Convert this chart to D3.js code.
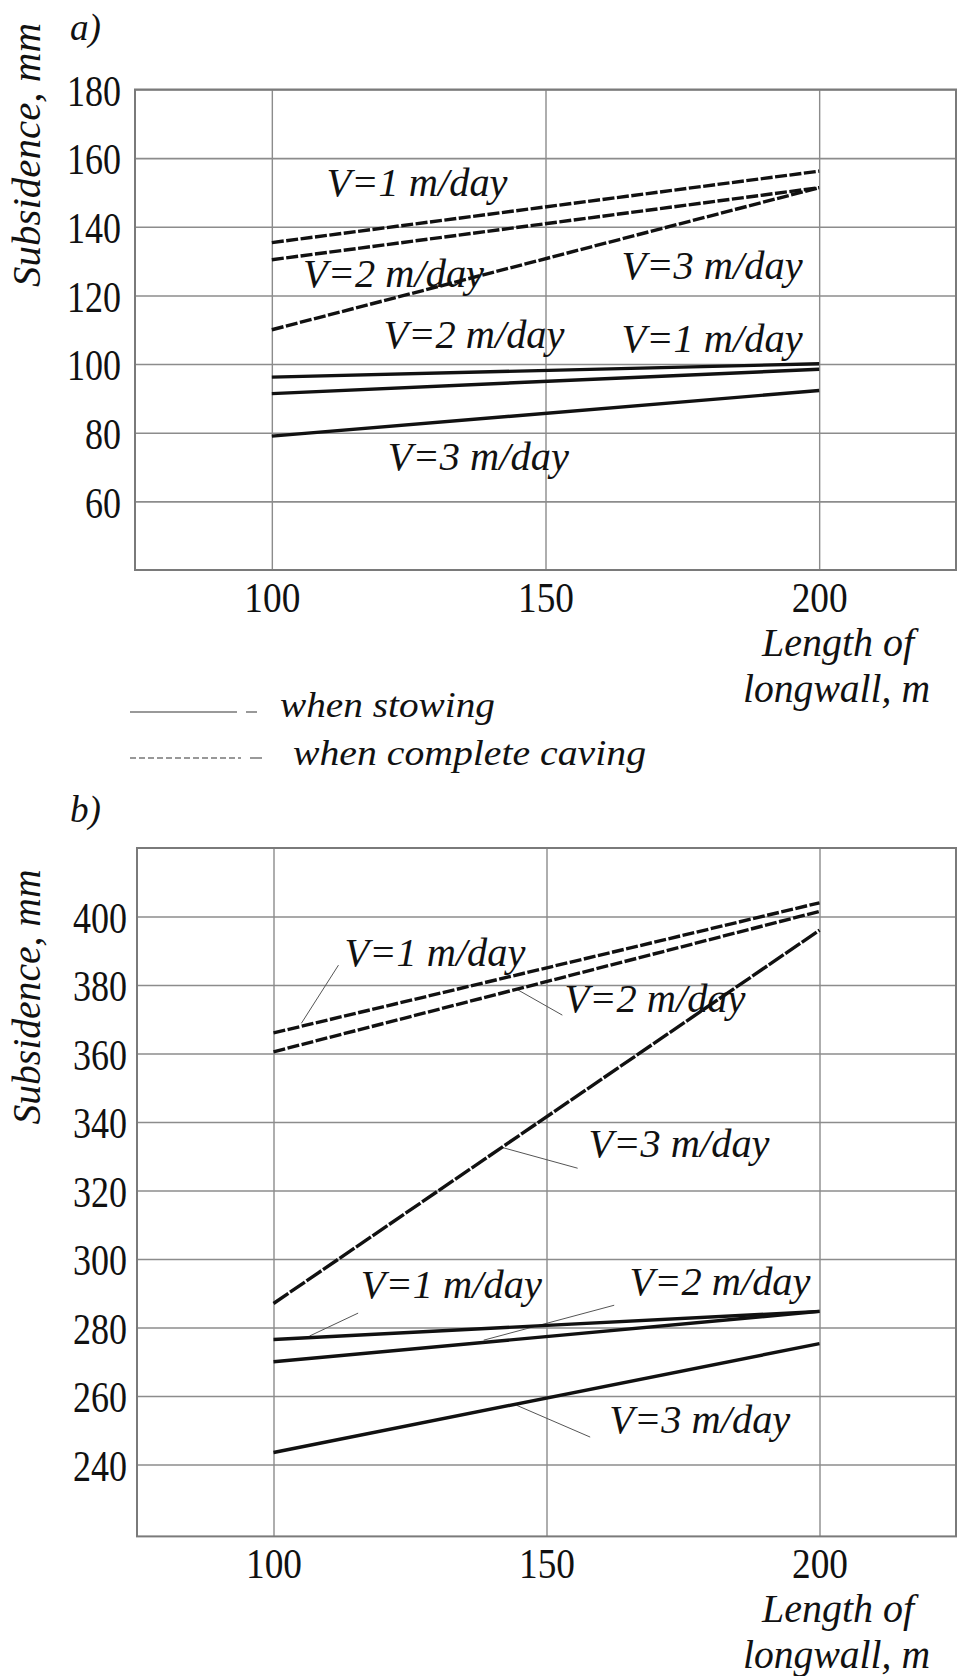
<!DOCTYPE html>
<html>
<head>
<meta charset="utf-8">
<script src="https://cdn.jsdelivr.net/npm/d3@7/dist/d3.min.js"></script>
<style>
  body { margin: 0; background: #fff; }
  svg { display: block; }
  text { font-family: "Liberation Serif", "Times New Roman", Tinos, serif; fill: #111; }
</style>
</head>
<body>
<svg id="chart" width="958" height="1676"></svg>
<script>
// ---------- data ----------
const lengths = [100, 200];                 // length of longwall, m
const xTicks = [100, 150, 200];
const yTicksA = [60, 80, 100, 120, 140, 160, 180];
const yTicksB = [240, 260, 280, 300, 320, 340, 360, 380, 400];
const speeds = ["V=1 m/day", "V=2 m/day", "V=3 m/day"];

// panel a) subsidence, mm
const aCaving1 = [135.4, 156.2];
const aCaving2 = [130.4, 151.4];
const aCaving3 = [110.0, 151.4];
const aStowing1 = [96.2, 100.1];
const aStowing2 = [91.4, 98.5];
const aStowing3 = [79.0, 92.3];

// panel b) subsidence, mm
const bCaving1 = [366.0, 404.0];
const bCaving2 = [360.5, 401.5];
const bCaving3 = [287.0, 396.0];
const bStowing1 = [276.5, 284.7];
const bStowing2 = [270.0, 284.7];
const bStowing3 = [243.5, 275.3];

// label anchors in data units [length, subsidence]
const aLabels = [
  {t: speeds[0], at: [110.0, 149.0]},
  {t: speeds[1], at: [105.7, 122.5]},
  {t: speeds[2], at: [163.9, 124.8]},
  {t: speeds[1], at: [120.4, 104.7]},
  {t: speeds[0], at: [163.9, 103.6]},
  {t: speeds[2], at: [121.2, 69.2]}
];
const bLabels = [
  {t: speeds[0], at: [113.0, 385.5], lead: [[111.9, 385.8], [105.1, 368.8]]},
  {t: speeds[1], at: [153.3, 372.1], lead: [[152.9, 371.2], [144.5, 378.8]]},
  {t: speeds[2], at: [157.7, 329.7], lead: [[155.7, 326.5], [141.8, 332.6]]},
  {t: speeds[0], at: [116.0, 288.6], lead: [[115.5, 284.2], [106.6, 277.5]]},
  {t: speeds[1], at: [165.2, 289.5], lead: [[162.4, 286.5], [138.5, 276.3]]},
  {t: speeds[2], at: [161.5, 249.2], lead: [[158.0, 248.0], [144.5, 257.3]]}
];

const svg = d3.select("#chart");
const GRID = "#8c8c8c";
const SERIF = "'Liberation Serif', 'Times New Roman', Tinos, serif";

function panel(cfg) {
  const x = d3.scaleLinear().domain([75, 225]).range([cfg.left, 956]);
  const y = d3.scaleLinear().domain(cfg.yDomain).range(cfg.yRange);
  const g = svg.append("g");
  const top = y(cfg.yDomain[1]), bottom = y(cfg.yDomain[0]);
  const w = 956 - cfg.left, h = bottom - top;

  // horizontal grid + y tick labels
  const ya = g.append("g").attr("transform", `translate(${cfg.left},0)`)
    .call(d3.axisLeft(y).tickValues(cfg.yTicks).tickSize(-w).tickPadding(cfg.yPad).tickFormat(d3.format("d")));
  ya.select(".domain").remove();
  ya.selectAll(".tick line").attr("stroke", GRID).attr("stroke-width", 1.6);
  ya.selectAll(".tick text").attr("font-size", 44).attr("dy", "0.36em")
    .attr("textLength", d => String(d).length * 18).attr("lengthAdjust", "spacingAndGlyphs")
    .style("font-family", SERIF).attr("fill", "#111");

  // vertical grid + x tick labels
  const xa = g.append("g").attr("transform", `translate(0,${bottom})`)
    .call(d3.axisBottom(x).tickValues(xTicks).tickSize(-h).tickPadding(0).tickFormat(d3.format("d")));
  xa.select(".domain").remove();
  xa.selectAll(".tick line").attr("stroke", GRID).attr("stroke-width", 1.4);
  xa.selectAll(".tick text").attr("font-size", 42).attr("y", 42).attr("dy", 0)
    .attr("textLength", 56).attr("lengthAdjust", "spacingAndGlyphs")
    .style("font-family", SERIF).attr("fill", "#111");

  // frame
  g.append("rect").attr("x", cfg.left).attr("y", top).attr("width", w).attr("height", h)
    .attr("fill", "none").attr("stroke", "#7a7a7a").attr("stroke-width", 2);

  // leader lines
  cfg.labels.forEach(l => {
    if (!l.lead) return;
    g.append("line")
      .attr("x1", x(l.lead[0][0])).attr("y1", y(l.lead[0][1]))
      .attr("x2", x(l.lead[1][0])).attr("y2", y(l.lead[1][1]))
      .attr("stroke", "#555").attr("stroke-width", 1);
  });

  // series
  const line = d3.line().x((d, i) => x(lengths[i])).y(d => y(d));
  cfg.stowing.forEach(s => {
    g.append("path").attr("d", line(s)).attr("fill", "none")
      .attr("stroke", "#111").attr("stroke-width", 3.4);
  });
  cfg.caving.forEach((s, i) => {
    g.append("path").attr("d", line(s)).attr("fill", "none")
      .attr("stroke", "#111").attr("stroke-width", 3.4)
      .attr("stroke-dasharray", cfg.dash[i]);
  });

  // series labels
  cfg.labels.forEach(l => {
    g.append("text").attr("x", x(l.at[0])).attr("y", y(l.at[1]))
      .attr("font-size", 40).attr("font-style", "italic")
      .attr("textLength", 181).attr("lengthAdjust", "spacingAndGlyphs")
      .text(l.t);
  });

  // y title
  g.append("text")
    .attr("transform", `translate(40,${cfg.titleY}) rotate(-90)`)
    .attr("text-anchor", "middle").attr("font-size", 40).attr("font-style", "italic")
    .attr("textLength", cfg.titleLen).attr("lengthAdjust", "spacingAndGlyphs")
    .text("Subsidence, mm");

  // panel letter
  g.append("text").attr("x", 70).attr("y", cfg.letterY)
    .attr("font-size", 38).attr("font-style", "italic")
    .attr("textLength", 31).attr("lengthAdjust", "spacingAndGlyphs").text(cfg.letter);

  // x title
  g.append("text").attr("x", 762).attr("y", bottom + 86)
    .attr("font-size", 39).attr("font-style", "italic")
    .attr("textLength", 152).attr("lengthAdjust", "spacingAndGlyphs").text("Length of");
  g.append("text").attr("x", 743).attr("y", bottom + 132)
    .attr("font-size", 40).attr("font-style", "italic")
    .attr("textLength", 187).attr("lengthAdjust", "spacingAndGlyphs").text("longwall, m");
}

panel({
  left: 135, yDomain: [40, 180], yRange: [570, 89.5], yTicks: yTicksA, yPad: 14,
  stowing: [aStowing1, aStowing2, aStowing3],
  caving: [aCaving1, aCaving2, aCaving3], dash: ["12,2.5", "12,2.5", "12,2.5"],
  labels: aLabels, titleY: 155, titleLen: 264, letter: "a)", letterY: 40
});

panel({
  left: 137, yDomain: [219, 420], yRange: [1536.4, 848], yTicks: yTicksB, yPad: 10,
  stowing: [bStowing1, bStowing2, bStowing3],
  caving: [bCaving1, bCaving2, bCaving3], dash: ["12,2.5", "12,2.5", "18,2"],
  labels: bLabels, titleY: 997, titleLen: 255, letter: "b)", letterY: 822
});

// legend
const lg = svg.append("g");
lg.append("line").attr("x1", 130).attr("x2", 237).attr("y1", 712).attr("y2", 712)
  .attr("stroke", "#777").attr("stroke-width", 1.5);
lg.append("line").attr("x1", 246).attr("x2", 257).attr("y1", 712).attr("y2", 712)
  .attr("stroke", "#777").attr("stroke-width", 1.5);
lg.append("text").attr("x", 280).attr("y", 717).attr("font-size", 36).attr("font-style", "italic")
  .attr("textLength", 215).attr("lengthAdjust", "spacingAndGlyphs").text("when stowing");
lg.append("line").attr("x1", 130).attr("x2", 241).attr("y1", 758).attr("y2", 758)
  .attr("stroke", "#777").attr("stroke-width", 1.5).attr("stroke-dasharray", "6,3");
lg.append("line").attr("x1", 250).attr("x2", 262).attr("y1", 758).attr("y2", 758)
  .attr("stroke", "#777").attr("stroke-width", 1.5);
lg.append("text").attr("x", 293).attr("y", 765).attr("font-size", 36).attr("font-style", "italic")
  .attr("textLength", 353).attr("lengthAdjust", "spacingAndGlyphs").text("when complete caving");
</script>
</body>
</html>
